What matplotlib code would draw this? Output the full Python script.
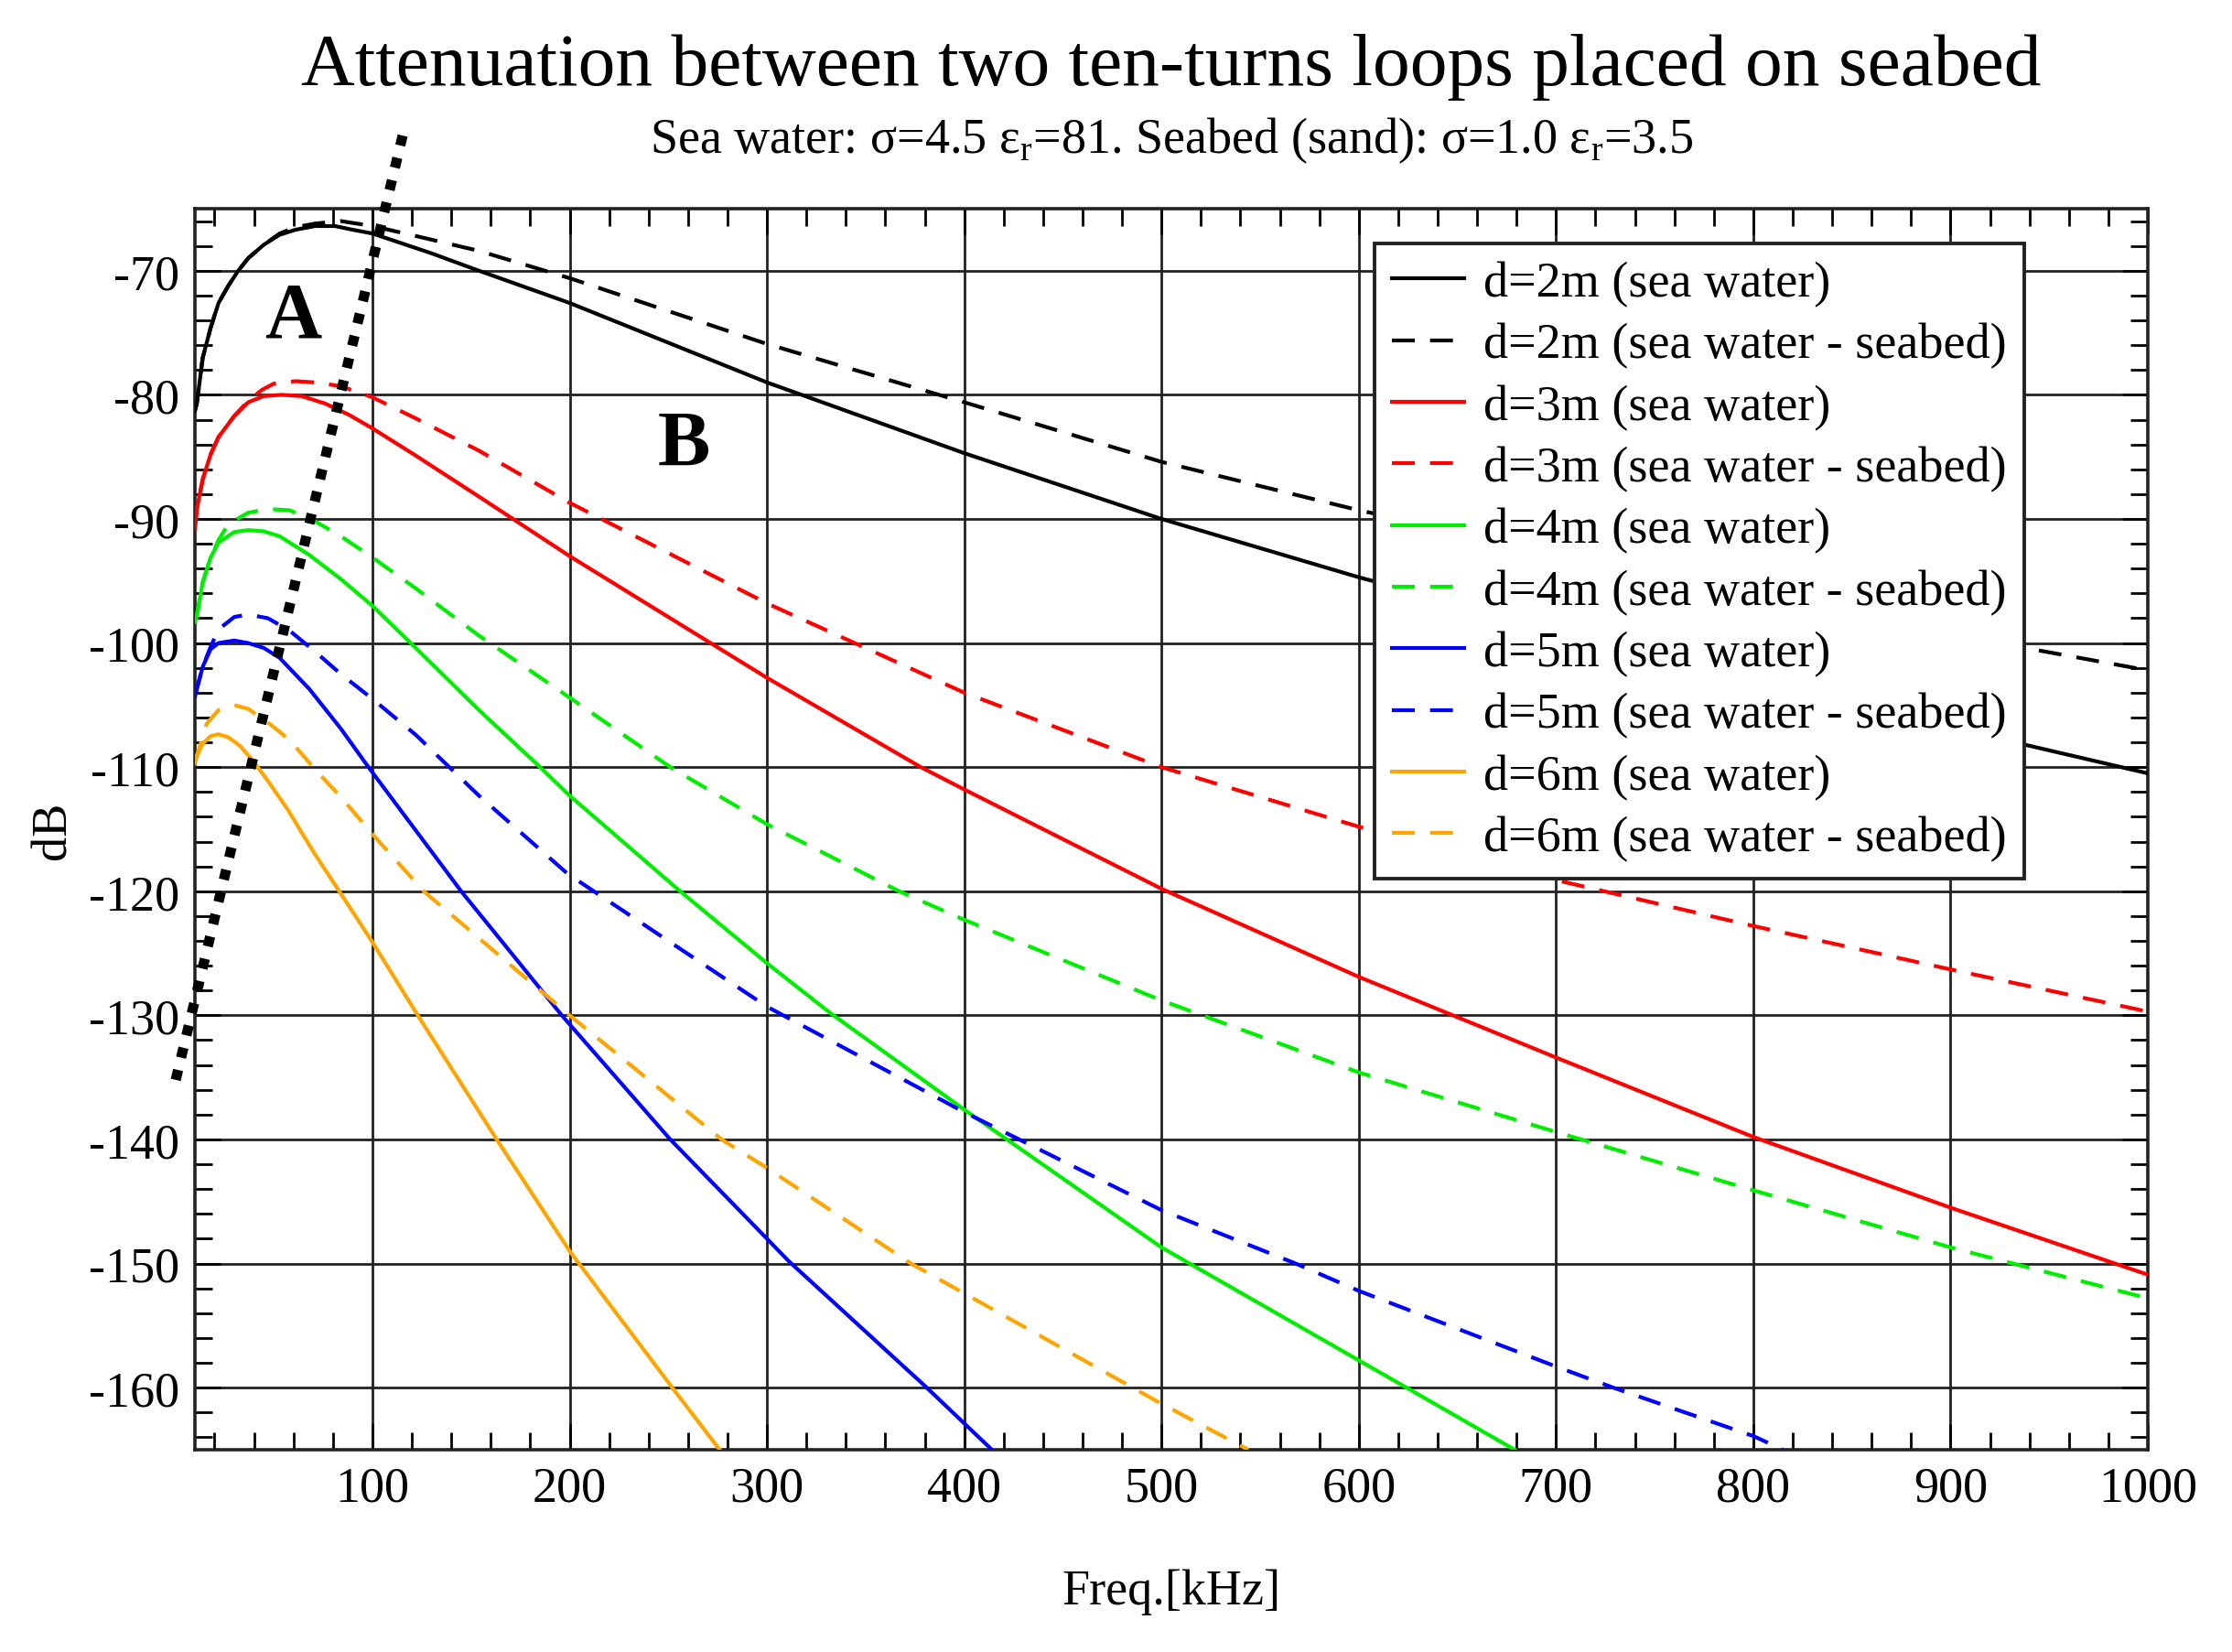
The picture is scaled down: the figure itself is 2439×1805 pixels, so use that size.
import matplotlib
matplotlib.use("Agg")
import matplotlib.pyplot as plt
from matplotlib.ticker import MultipleLocator

plt.rcParams['font.family'] = ['Liberation Serif', 'DejaVu Serif']
plt.rcParams['mathtext.fontset'] = 'custom'
plt.rcParams['mathtext.rm'] = 'Liberation Serif'
plt.rcParams['axes.unicode_minus'] = False

# curves (frequency in kHz, attenuation in dB)
f_sw2 = [10, 11, 14, 18, 22, 27, 32, 37, 45, 53, 61, 71, 81, 90, 100, 115, 130, 154,
         200, 300, 400, 500, 600, 700, 800, 900, 1000]
db_sw2 = [-81.3, -80.7, -77.0, -74.6, -72.6, -71.2, -70.0, -69.0, -67.9, -67.1, -66.7, -66.4,
          -66.4, -66.7, -67.0, -67.8, -68.6, -70.0, -72.6, -79.0, -84.7, -90.0, -94.7, -98.9,
          -102.9, -106.8, -110.5]
f_sb2 = [10, 11, 14, 18, 22, 27, 32, 37, 45, 53, 61, 71, 84, 100, 122, 154,
         200, 300, 400, 500, 600, 700, 800, 900, 1000]
db_sb2 = [-81.3, -80.7, -77.0, -74.6, -72.6, -71.2, -70.0, -69.0, -67.9, -67.0, -66.5, -66.2,
          -66.0, -66.4, -67.2, -68.4, -70.6, -75.9, -80.6, -85.4, -89.3, -92.7, -96.0, -99.3,
          -102.2]

f_sw3 = [10, 11, 14, 18, 22, 30, 37, 45, 54, 64, 76, 88, 100, 122, 154, 200, 300, 378,
         400, 500, 600, 700, 800, 900, 1000]
db_sw3 = [-90.8, -89.2, -86.8, -84.8, -83.4, -81.7, -80.6, -80.1, -80.0, -80.1, -80.7, -81.6,
          -82.7, -84.9, -88.2, -93.0, -102.8, -110.0, -111.8, -119.8, -126.9, -133.4, -139.8,
          -145.5, -150.9]
f_sb3 = [10, 11, 14, 18, 22, 30, 37, 44, 50, 61, 71, 84, 100, 122, 154, 200, 300, 400,
         500, 600, 700, 800, 900, 1000]
db_sb3 = [-90.8, -89.2, -86.8, -84.8, -83.4, -81.7, -80.5, -79.6, -79.1, -78.9, -79.0, -79.3,
          -80.2, -81.9, -84.5, -88.7, -96.8, -104.0, -110.0, -114.8, -119.1, -122.8, -126.3,
          -129.7]

f_sw4 = [10, 11, 14, 18, 22, 30, 37, 45, 53, 68, 84, 100, 122, 154, 185, 200, 256, 300,
         332, 400, 500, 600, 622, 679]
db_sw4 = [-98.3, -97.8, -95.1, -93.1, -91.9, -91.05, -90.9, -91.0, -91.4, -92.9, -94.85, -97.0,
          -100.4, -105.4, -110.0, -112.3, -120.0, -125.8, -129.8, -137.6, -148.7, -157.8,
          -159.8, -165.0]
f_sb4 = [10, 11, 14, 18, 22, 27, 37, 47, 58, 71, 84, 100, 122, 154, 200, 251, 300, 367,
         400, 500, 600, 700, 800, 900, 1000]
db_sb4 = [-98.3, -97.8, -95.1, -93.1, -91.7, -90.4, -89.5, -89.2, -89.3, -90.2, -91.4, -93.1,
          -95.6, -99.4, -104.4, -110.0, -114.6, -120.0, -122.3, -128.8, -134.6, -139.4,
          -144.1, -148.7, -152.8]

f_sw5 = [10, 11, 14, 18, 22, 30, 37, 45, 53, 68, 84, 98, 145, 196, 251, 300, 311, 381, 414]
db_sw5 = [-104.3, -103.7, -101.9, -100.5, -100.0, -99.8, -100.0, -100.4, -101.2, -103.7,
          -106.9, -110.0, -120.0, -130.0, -140.0, -148.0, -149.8, -160.0, -165.0]
f_sb5 = [10, 11, 14, 18, 22, 30, 37, 47, 58, 71, 84, 100, 122, 154, 199, 300, 400, 500,
         568, 600, 700, 729, 800, 815]
db_sb5 = [-104.3, -103.7, -101.9, -100.3, -98.9, -97.9, -97.7, -98.0, -99.0, -100.7, -102.5,
          -104.5, -107.4, -112.3, -118.6, -129.3, -137.8, -145.7, -150.0, -152.2, -158.3,
          -160.0, -163.9, -165.0]

f_sw6 = [10, 11, 14, 18, 22, 27, 33, 40, 47, 57, 70, 84, 100, 123, 163, 200, 252, 276]
db_sw6 = [-109.7, -109.1, -108.1, -107.5, -107.35, -107.6, -108.3, -109.6, -111.1, -113.4,
          -116.8, -120.2, -124.1, -130.0, -140.0, -149.0, -160.0, -165.0]
f_sb6 = [10, 11, 16, 22, 30, 37, 47, 58, 71, 84, 100, 126, 200, 277, 300, 373, 400, 500, 544]
db_sb6 = [-109.7, -109.1, -106.5, -105.4, -105.0, -105.3, -106.4, -107.8, -110.2, -112.4,
          -115.4, -120.0, -130.0, -140.0, -142.3, -150.0, -152.4, -161.3, -165.0]

# the boundary between zones A and B
f_border = [0.3, 115.5]
db_border = [-135.2, -59.0]

fig = plt.figure(figsize=(12.195, 9.03), dpi=200)
ax = fig.add_axes([0.0873, 0.1224, 0.875, 0.7508])

dash = (0, (6, 4))
series = [
    (f_sw2, db_sw2, 'black', '-', 'd=2m (sea water)'),
    (f_sb2, db_sb2, 'black', dash, 'd=2m (sea water - seabed)'),
    (f_sw3, db_sw3, '#ff0000', '-', 'd=3m (sea water)'),
    (f_sb3, db_sb3, '#ff0000', dash, 'd=3m (sea water - seabed)'),
    (f_sw4, db_sw4, '#00ee00', '-', 'd=4m (sea water)'),
    (f_sb4, db_sb4, '#00ee00', dash, 'd=4m (sea water - seabed)'),
    (f_sw5, db_sw5, '#0000ff', '-', 'd=5m (sea water)'),
    (f_sb5, db_sb5, '#0000ff', dash, 'd=5m (sea water - seabed)'),
    (f_sw6, db_sw6, '#ffa500', '-', 'd=6m (sea water)'),
    (f_sb6, db_sb6, '#ffa500', dash, 'd=6m (sea water - seabed)'),
]
for f, db, c, ls, lab in series:
    ax.plot(f, db, color=c, linestyle=ls, linewidth=1.5, label=lab, zorder=3)

ax.plot(f_border, db_border, color='black', linewidth=4.0,
        linestyle=(0, (1, 1.25)), dash_capstyle='butt', clip_on=False, zorder=4)

ax.text(59.8, -75.3, 'A', fontsize=31, fontweight='bold', ha='center', va='baseline')
ax.text(258, -85.6, 'B', fontsize=31, fontweight='bold', ha='center', va='baseline')

ax.set_xlim(10, 1000)
ax.set_ylim(-165, -65)
ax.xaxis.set_major_locator(MultipleLocator(100))
ax.xaxis.set_minor_locator(MultipleLocator(20))
ax.yaxis.set_major_locator(MultipleLocator(10))
ax.yaxis.set_minor_locator(MultipleLocator(2))
ax.grid(True, which='major', color='#222222', linewidth=1.0)
ax.set_axisbelow(True)
ax.tick_params(which='both', direction='in', top=True, right=True, labelsize=19.5)
ax.tick_params(which='major', length=10, width=1.0)
ax.tick_params(which='minor', length=7, width=1.0)
ax.tick_params(axis='x', pad=6)
ax.tick_params(axis='y', pad=6)
for s in ax.spines.values():
    s.set_linewidth(1.3)
    s.set_color('#222222')

leg = ax.legend(loc='upper right', bbox_to_anchor=(0.9367, 0.972), fontsize=19.5,
                frameon=True, fancybox=False, framealpha=1, edgecolor='#222222',
                handlelength=1.46, handletextpad=0.4, labelspacing=0.31, borderpad=0.35,
                borderaxespad=0)
leg.get_frame().set_linewidth(1.4)

xc = 0.0873 + 0.875 / 2
fig.text(xc, 0.9485, 'Attenuation between two ten-turns loops placed on seabed',
         fontsize=29.3, ha='center', va='baseline')
fig.text(xc, 0.9075,
         'Sea water: σ=4.5 ε$_\\mathregular{r}$=81. Seabed (sand): σ=1.0 ε$_\\mathregular{r}$=3.5',
         fontsize=19.5, ha='center', va='baseline')
fig.text(xc, 0.0294, 'Freq.[kHz]', fontsize=19.5, ha='center', va='baseline')
fig.text(0.0238, 0.4978, 'dB', fontsize=19.5, rotation=90, ha='center', va='center')

fig.savefig('out.png', dpi=200)
